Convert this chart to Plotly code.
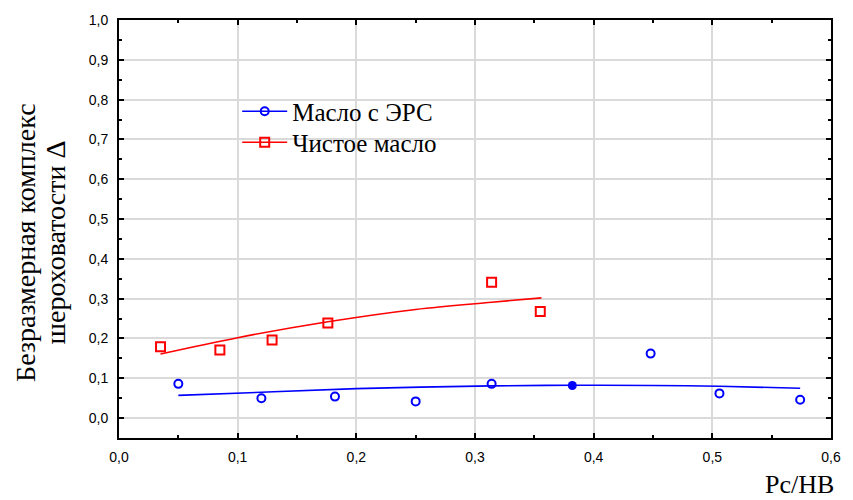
import plotly.graph_objects as go

# Data
ers_x = [0.050, 0.120, 0.182, 0.250, 0.314, 0.448, 0.506, 0.574]
ers_y = [0.086, 0.050, 0.054, 0.042, 0.086, 0.162, 0.062, 0.046]
ers_filled_x = [0.382]
ers_filled_y = [0.082]
ers_fit_x = [0.050, 0.120, 0.200, 0.314, 0.382, 0.450, 0.506, 0.574]
ers_fit_y = [0.057, 0.065, 0.074, 0.081, 0.0825, 0.082, 0.080, 0.075]

pure_x = [0.035, 0.085, 0.129, 0.176, 0.314, 0.355]
pure_y = [0.179, 0.171, 0.196, 0.239, 0.341, 0.268]
pure_fit_x = [0.035, 0.100, 0.176, 0.250, 0.314, 0.356]
pure_fit_y = [0.161, 0.202, 0.242, 0.273, 0.291, 0.302]

x_ticks = [0.0, 0.1, 0.2, 0.3, 0.4, 0.5, 0.6]
y_ticks = [0.0, 0.1, 0.2, 0.3, 0.4, 0.5, 0.6, 0.7, 0.8, 0.9, 1.0]

BLUE = "#0000ff"
RED = "#ff0000"
SERIF = "Liberation Serif, Times New Roman"

fig = go.Figure()
fig.add_trace(go.Scatter(x=ers_fit_x, y=ers_fit_y, mode="lines", line=dict(color=BLUE, width=1.6, shape="spline"),
                         showlegend=False, hoverinfo="skip"))
fig.add_trace(go.Scatter(x=pure_fit_x, y=pure_fit_y, mode="lines", line=dict(color=RED, width=1.6, shape="spline"),
                         showlegend=False, hoverinfo="skip"))
fig.add_trace(go.Scatter(x=ers_x, y=ers_y, mode="markers", name="Масло с ЭРС",
                         marker=dict(symbol="circle-open", size=8, color=BLUE, line=dict(width=2, color=BLUE)),
                         showlegend=False))
fig.add_trace(go.Scatter(x=ers_filled_x, y=ers_filled_y, mode="markers", showlegend=False,
                         marker=dict(symbol="circle", size=9, color=BLUE)))
fig.add_trace(go.Scatter(x=pure_x, y=pure_y, mode="markers", name="Чистое масло",
                         marker=dict(symbol="square-open", size=9, color=RED, line=dict(width=2, color=RED)),
                         showlegend=False))
# legend entries (two separate legends to control row spacing)
fig.add_trace(go.Scatter(x=[None], y=[None], mode="lines+markers", name="Масло с ЭРС", legend="legend",
                         line=dict(color=BLUE, width=1.6),
                         marker=dict(symbol="circle-open", size=8, color=BLUE, line=dict(width=2, color=BLUE))))
fig.add_trace(go.Scatter(x=[None], y=[None], mode="lines+markers", name="Чистое масло", legend="legend2",
                         line=dict(color=RED, width=1.6),
                         marker=dict(symbol="square-open", size=9, color=RED, line=dict(width=2, color=RED))))

axis_common = dict(
    showline=True, linecolor="black", linewidth=2, mirror="ticks",
    ticks="inside", ticklen=5, tickcolor="black", tickwidth=1.5,
    showgrid=True, gridcolor="#dadada", gridwidth=2, zeroline=False,
    tickfont=dict(family="Liberation Sans, Arial", size=14, color="black"),
    tickformat=".1f",
)

legend_common = dict(xanchor="left", yanchor="middle", bgcolor="rgba(0,0,0,0)",
                     font=dict(family=SERIF, size=25), itemwidth=45)

fig.update_layout(
    width=853, height=500,
    margin=dict(l=119, r=13, t=18, b=62),
    plot_bgcolor="white", paper_bgcolor="white",
    separators=", ",
    font=dict(family=SERIF, color="black"),
    xaxis=dict(range=[0, 0.6], tickvals=x_ticks, ticklabelstandoff=5,
               minor=dict(ticks="inside", ticklen=3, tickcolor="black", dtick=0.05, showgrid=False),
               **axis_common),
    yaxis=dict(range=[-0.05, 1.0], tickvals=y_ticks, ticklabelstandoff=6,
               minor=dict(ticks="inside", ticklen=3, tickcolor="black", dtick=0.05, showgrid=False),
               **axis_common),
    legend=dict(x=0.166, y=0.781, **legend_common),
    legend2=dict(x=0.166, y=0.707, **legend_common),
    annotations=[
        dict(text="Pc/HB", xref="paper", yref="paper", x=1.0, y=-0.112, xshift=5,
             xanchor="right", yanchor="middle", showarrow=False,
             font=dict(family=SERIF, size=26)),
        dict(text="Безразмерная комплекс", xref="paper", yref="paper", x=-0.1304, y=0.467,
             xanchor="center", yanchor="middle", textangle=-90, showarrow=False,
             font=dict(family=SERIF, size=28)),
        dict(text="шероховатости Δ", xref="paper", yref="paper", x=-0.0888, y=0.467,
             xanchor="center", yanchor="middle", textangle=-90, showarrow=False,
             font=dict(family=SERIF, size=28)),
    ],
)

fig.write_html("out.html", config={"displayModeBar": False},
               post_script=["document.body.style.margin = '0';"])
